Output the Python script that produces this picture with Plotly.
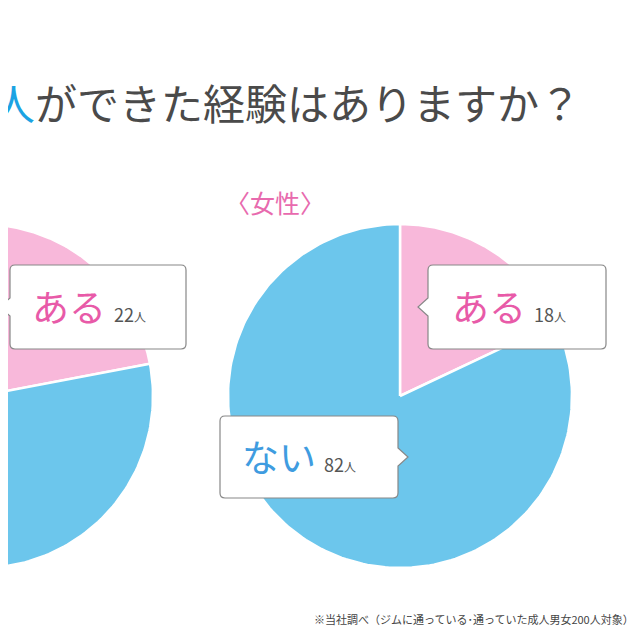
import numpy as np
import plotly.graph_objects as go

labels = ["ある", "ない"]
male_values = [22, 78]
female_values = [18, 82]
colors = ["#f8b8da", "#6cc6ec"]
label_colors = ["#e85aa8", "#3f9ce0"]

FONT = "Noto Sans CJK JP"
fig = go.Figure()

def pie(cx, cy, r, values):
    total = sum(values)
    start = 0.0
    for v, c in zip(values, colors):
        a = np.linspace(start, start + v / total * 2 * np.pi, 200)
        xs = np.concatenate([[cx], cx + r * np.sin(a), [cx]])
        ys = np.concatenate([[cy], cy - r * np.cos(a), [cy]])
        fig.add_trace(go.Scatter(x=xs, y=ys, fill="toself", fillcolor=c, mode="lines",
                                 line=dict(color="white", width=2.5), hoverinfo="skip",
                                 showlegend=False))
        start += v / total * 2 * np.pi

pie(-19, 396, 172, male_values)
pie(400, 396, 172, female_values)

def callout(x0, y0, x1, y1, side, tip):
    r = 5
    ym = (y0 + y1) / 2
    if side == "left":
        p = (f"M{x0+r},{y0} L{x1-r},{y0} Q{x1},{y0} {x1},{y0+r} L{x1},{y1-r} Q{x1},{y1} {x1-r},{y1} "
             f"L{x0+r},{y1} Q{x0},{y1} {x0},{y1-r} L{x0},{ym+9} L{tip},{ym} L{x0},{ym-9} L{x0},{y0+r} Q{x0},{y0} {x0+r},{y0} Z")
    else:
        p = (f"M{x0+r},{y0} L{x1-r},{y0} Q{x1},{y0} {x1},{y0+r} L{x1},{ym-9} L{tip},{ym} L{x1},{ym+9} L{x1},{y1-r} Q{x1},{y1} {x1-r},{y1} "
             f"L{x0+r},{y1} Q{x0},{y1} {x0},{y1-r} L{x0},{y0+r} Q{x0},{y0} {x0+r},{y0} Z")
    fig.add_shape(type="path", path=p, xref="x", yref="y", fillcolor="white",
                  line=dict(color="#888888", width=1.2), layer="above")

callout(10, 265, 186, 349, "left", 0)
callout(428, 265, 606, 349, "left", 418)
callout(220, 416, 398, 498, "right", 408)

def label(x, y, i, val):
    fig.add_annotation(x=x, y=y, xref="x", yref="y", xanchor="left", yanchor="middle", showarrow=False,
                       text=f"<span style='color:{label_colors[i]};font-size:37px'>{labels[i]}</span>"
                            f"<span style='font-size:18px'>  {val}</span><span style='font-size:12px'>人</span>",
                       font=dict(family=FONT, color="#555555", size=18))

label(30, 306, 0, male_values[0])
label(450, 306, 0, female_values[0])
label(240, 456, 1, female_values[1])

fig.add_annotation(x=583, y=101, xref="x", yref="y", xanchor="right", yanchor="middle", showarrow=False,
                   text="<span style='color:#1ba3e3'>恋人</span>ができた経験はありますか？",
                   font=dict(family=FONT, size=42, color="#4a4a4a"))
fig.add_annotation(x=275, y=202, xref="x", yref="y", xanchor="center", yanchor="middle", showarrow=False,
                   text="〈女性〉", font=dict(family=FONT, size=25, color="#e86aae"))
fig.add_annotation(x=636, y=619, xref="x", yref="y", xanchor="right", yanchor="middle", showarrow=False,
                   text="※当社調べ（ジムに通っている･通っていた成人男女200人対象）",
                   font=dict(family=FONT, size=11, color="#444444"))

fig.update_layout(width=640, height=640, margin=dict(l=0, r=0, t=0, b=0),
                  paper_bgcolor="white", plot_bgcolor="white",
                  xaxis=dict(range=[8, 648], visible=False, fixedrange=True),
                  yaxis=dict(range=[648, 8], visible=False, fixedrange=True))
fig.write_html("out.html", config={"displayModeBar": False})
